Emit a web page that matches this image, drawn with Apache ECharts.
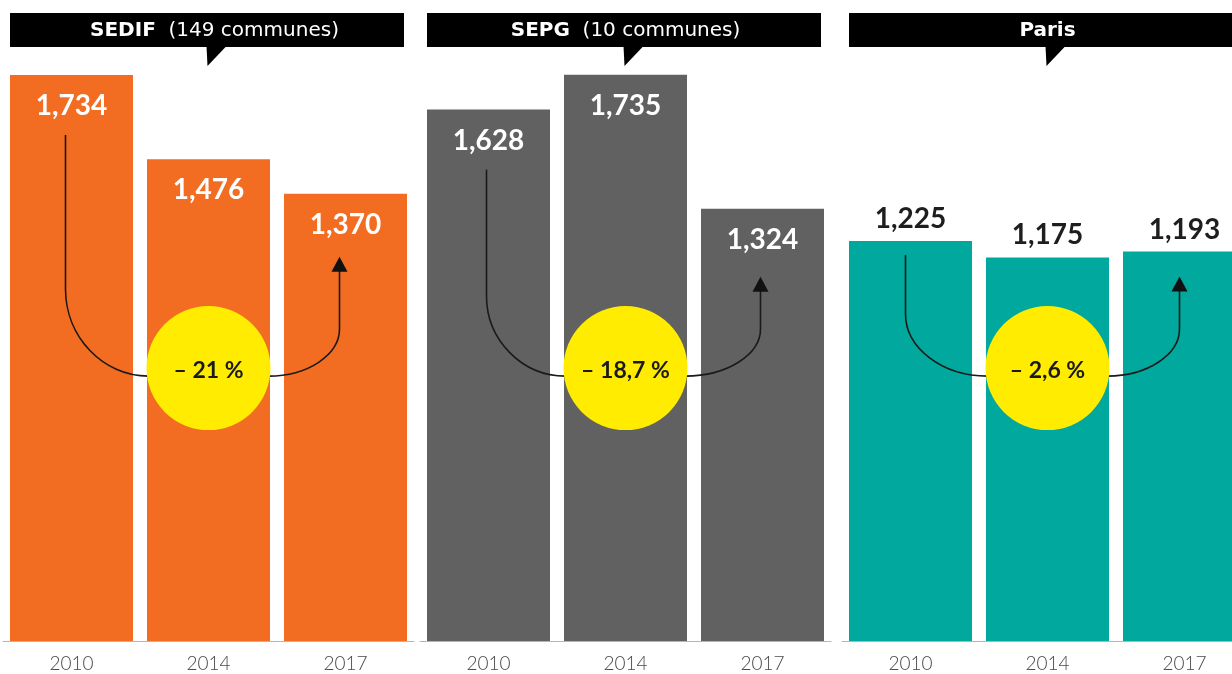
<!DOCTYPE html>
<html><head><meta charset="utf-8">
<script src="https://cdn.jsdelivr.net/npm/echarts@6/dist/echarts.min.js"></script>
<style>html,body{margin:0;padding:0;background:#fff}#c{width:1232px;height:674px}</style>
</head><body><div id="c"></div>
<script>
// ---- data ----
const categories = ['2010', '2014', '2017'];
const sedifValues = [1734, 1476, 1370];
const sepgValues = [1628, 1735, 1324];
const parisValues = [1225, 1175, 1193];
const panelNames = ['SEDIF', 'SEPG', 'Paris'];
const panelNotes = ['(149 communes)', '(10 communes)', ''];
const changeLabels = ['– 21 %', '– 18,7 %', '– 2,6 %'];

// ---- style ----
const FONT = 'Lato, "Open Sans", sans-serif';
const HFONT = '"DejaVu Sans", sans-serif';
const panelValues = [sedifValues, sepgValues, parisValues];
const barColors = ['#F26D21', '#616161', '#00A89D'];
const labelInside = [true, true, false];
const gridLefts = [3, 420, 842];
const gridWidth = 411;
const barW = 123;
const circleR = 62;
const circleLevel = 836;      // value-axis level of the yellow badge centre
const arrowStartOff = [60, 60, 14];
const arrowTipOff = [63, 68, 25];
const leftBendRy = [87, 80, 62];
const rightBendRy = [47, 47, 47];
const arrowXOff = [-6, -2, -5];

const chart = echarts.init(document.getElementById('c'), null, {renderer: 'canvas'});

const grids = [], xAxes = [], yAxes = [], series = [];
panelValues.forEach((vals, i) => {
  grids.push({left: gridLefts[i], width: gridWidth, top: 73, bottom: 33,
    containLabel: false, outerBoundsMode: 'none'});
  xAxes.push({
    type: 'category', gridIndex: i, data: categories,
    axisLine: {lineStyle: {color: '#b5b5b5', width: 1}},
    axisTick: {show: false},
    axisLabel: {color: '#4a4a4a', fontSize: 19, margin: 13, fontFamily: FONT, fontWeight: 300}
  });
  yAxes.push({type: 'value', gridIndex: i, min: 0, max: 1740, show: false, splitLine: {show: false}});
  series.push({
    type: 'bar', xAxisIndex: i, yAxisIndex: i, data: vals, barWidth: barW,
    itemStyle: {color: barColors[i]},
    label: {
      show: true,
      position: labelInside[i] ? 'insideTop' : 'top',
      distance: labelInside[i] ? 17 : 8,
      color: labelInside[i] ? '#ffffff' : '#1e1e1e',
      fontSize: 28, fontWeight: 'bold', fontFamily: FONT,
      formatter: p => p.value.toLocaleString('en-US')
    }
  });
});

chart.setOption({
  backgroundColor: '#ffffff',
  animation: false,
  grid: grids, xAxis: xAxes, yAxis: yAxes, series: series
});

const els = [];
panelValues.forEach((vals, i) => {
  const px = (ci, v) => chart.convertToPixel({gridIndex: i}, [categories[ci], v]);
  const p0 = px(0, vals[0]);
  const p1 = px(1, vals[1]);
  const p2 = px(2, vals[2]);
  const left = p0[0] - barW / 2;
  const right = p2[0] + barW / 2 - 3;
  // header box
  els.push({type: 'rect', z: 100, shape: {x: left, y: 13, width: right - left, height: 34}, style: {fill: '#000'}});
  els.push({type: 'polygon', z: 100, shape: {points: [[p1[0] - 2, 46], [p1[0] + 18, 46], [p1[0] - 1, 66]]}, style: {fill: '#000'}});
  const rich = panelNotes[i]
    ? '{b|' + panelNames[i] + '}{r|  ' + panelNotes[i] + '}'
    : '{b|' + panelNames[i] + '}';
  els.push({type: 'text', z: 101, x: p1[0] + (i === 0 ? 6 : 0), y: 31,
    style: {text: rich, align: 'center', verticalAlign: 'middle',
      rich: {
        b: {fontSize: 20, fontWeight: 'bold', fill: '#fff', fontFamily: HFONT},
        r: {fontSize: 20, fontWeight: 'normal', fill: '#fff', fontFamily: HFONT}
      }}});
  // badge
  const c = px(1, circleLevel);
  const lvl = c[1] + 8;
  const ax = p0[0] + arrowXOff[i];
  const ex = p2[0] + arrowXOff[i];
  const y0 = p0[1] + arrowStartOff[i];
  const tip = p2[1] + arrowTipOff[i];
  const cl = c[0] - circleR + 2, cr = c[0] + circleR - 2;
  const ryL = leftBendRy[i], ryR = rightBendRy[i];
  const ls = {stroke: '#1a1a1a', lineWidth: 1.6, fill: null};
  els.push({type: 'line', z: 110, shape: {x1: ax, y1: y0, x2: ax, y2: lvl - ryL}, style: ls});
  els.push({type: 'bezierCurve', z: 110, shape: {
    x1: ax, y1: lvl - ryL, cpx1: ax, cpy1: lvl - ryL + 0.55 * ryL,
    cpx2: cl - 0.55 * (cl - ax), cpy2: lvl, x2: cl, y2: lvl}, style: ls});
  els.push({type: 'bezierCurve', z: 110, shape: {
    x1: cr, y1: lvl, cpx1: cr + 0.55 * (ex - cr), cpy1: lvl,
    cpx2: ex, cpy2: lvl - ryR + 0.55 * ryR, x2: ex, y2: lvl - ryR}, style: ls});
  els.push({type: 'line', z: 110, shape: {x1: ex, y1: lvl - ryR, x2: ex, y2: tip + 12}, style: ls});
  els.push({type: 'polygon', z: 111, shape: {points: [[ex, tip], [ex - 8, tip + 15], [ex + 8, tip + 15]]}, style: {fill: '#111'}});
  els.push({type: 'circle', z: 120, shape: {cx: c[0], cy: c[1], r: circleR}, style: {fill: '#FFEC00'}});
  els.push({type: 'text', z: 121, x: c[0], y: c[1] + 2, style: {
    text: changeLabels[i], align: 'center', verticalAlign: 'middle',
    fontSize: 23, fontWeight: 'bold', fill: '#1a1a1a', fontFamily: FONT}});
});
chart.setOption({graphic: {elements: els}});
</script>
</body></html>
